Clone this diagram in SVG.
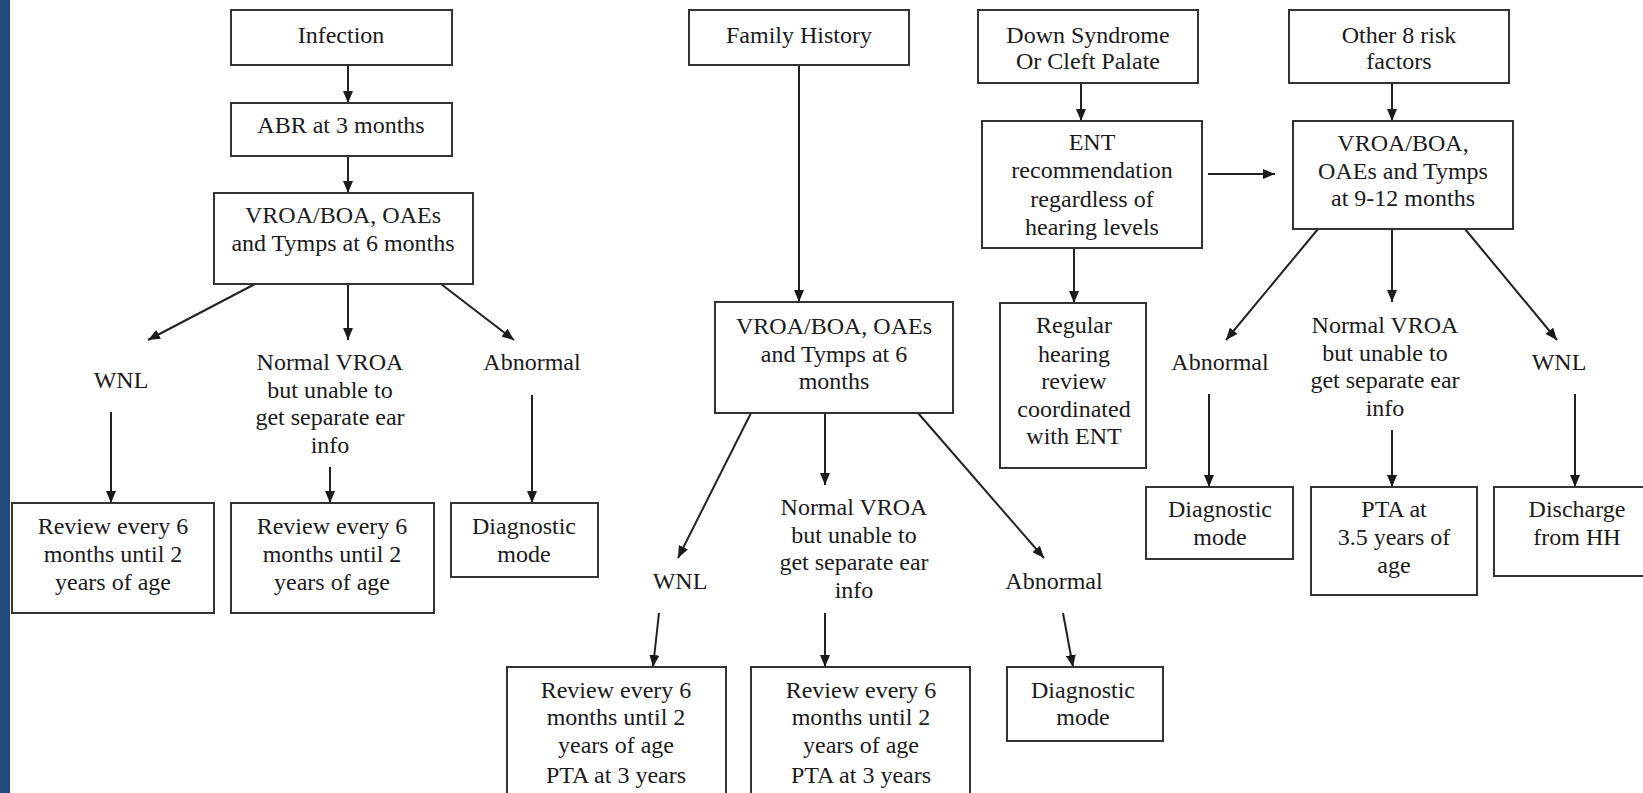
<svg xmlns="http://www.w3.org/2000/svg" width="1643" height="793" viewBox="0 0 1643 793">
<defs>
<marker id="ah" markerUnits="userSpaceOnUse" markerWidth="12" markerHeight="10" refX="12" refY="5" orient="auto">
<path d="M0,0 L12,5 L0,10 z" fill="#1a1a1a"/>
</marker>
<style>
.b{fill:#fff;stroke:#333;stroke-width:2}
.t{font-family:"Liberation Serif","Times New Roman",serif;font-size:24px;fill:#1a1a1a;text-anchor:middle}
.c line{stroke:#222;stroke-width:2;marker-end:url(#ah)}
</style>
</defs>
<rect x="0" y="0" width="1643" height="793" fill="#fff"/>
<rect x="0" y="0" width="10" height="793" fill="#1f4a7e"/>
<g class="c" id="connectors">
<line x1="348" y1="65" x2="348" y2="103"/>
<line x1="348" y1="156" x2="348" y2="193"/>
<line x1="255" y1="284" x2="148" y2="340"/>
<line x1="348" y1="284" x2="348" y2="340"/>
<line x1="441" y1="284" x2="514" y2="340"/>
<line x1="111" y1="412" x2="111" y2="503"/>
<line x1="330" y1="467" x2="330" y2="503"/>
<line x1="532" y1="395" x2="532" y2="503"/>
<line x1="799" y1="65" x2="799" y2="302"/>
<line x1="751" y1="413" x2="678" y2="558"/>
<line x1="825" y1="413" x2="825" y2="485"/>
<line x1="918" y1="413" x2="1044" y2="558"/>
<line x1="659" y1="613" x2="653" y2="667"/>
<line x1="825" y1="613" x2="825" y2="667"/>
<line x1="1063" y1="613" x2="1073" y2="667"/>
<line x1="1081" y1="83" x2="1081" y2="121"/>
<line x1="1074" y1="248" x2="1074" y2="303"/>
<line x1="1208" y1="174" x2="1275" y2="174"/>
<line x1="1392" y1="83" x2="1392" y2="121"/>
<line x1="1318" y1="229" x2="1226" y2="340"/>
<line x1="1392" y1="229" x2="1392" y2="302"/>
<line x1="1465" y1="229" x2="1557" y2="340"/>
<line x1="1209" y1="394" x2="1209" y2="487"/>
<line x1="1392" y1="430" x2="1392" y2="487"/>
<line x1="1575" y1="394" x2="1575" y2="487"/>
</g>
<g id="infection"><rect class="b" x="231" y="10" width="221" height="55"/><text class="t" x="341" y="43">Infection</text></g>
<g id="abr"><rect class="b" x="231" y="103" width="221" height="53"/><text class="t" x="341" y="133">ABR at 3 months</text></g>
<g id="vroa6a"><rect class="b" x="214" y="193" width="259" height="91"/><text class="t" x="343" y="223">VROA/BOA, OAEs</text><text class="t" x="343" y="251">and Tymps at 6 months</text></g>
<g id="wnl1"><text class="t" x="121" y="388">WNL</text></g>
<g id="normal1"><text class="t" x="330" y="370">Normal VROA</text><text class="t" x="330" y="398">but unable to</text><text class="t" x="330" y="425">get separate ear</text><text class="t" x="330" y="453">info</text></g>
<g id="abnormal1"><text class="t" x="532" y="370">Abnormal</text></g>
<g id="review1"><rect class="b" x="12" y="503" width="202" height="110"/><text class="t" x="113" y="534">Review every 6</text><text class="t" x="113" y="562">months until 2</text><text class="t" x="113" y="590">years of age</text></g>
<g id="review2"><rect class="b" x="231" y="503" width="203" height="110"/><text class="t" x="332" y="534">Review every 6</text><text class="t" x="332" y="562">months until 2</text><text class="t" x="332" y="590">years of age</text></g>
<g id="diag1"><rect class="b" x="451" y="503" width="147" height="74"/><text class="t" x="524" y="534">Diagnostic</text><text class="t" x="524" y="562">mode</text></g>
<g id="family"><rect class="b" x="689" y="10" width="220" height="55"/><text class="t" x="799" y="43">Family History</text></g>
<g id="vroa6b"><rect class="b" x="715" y="302" width="238" height="111"/><text class="t" x="834" y="334">VROA/BOA, OAEs</text><text class="t" x="834" y="362">and Tymps at 6</text><text class="t" x="834" y="389">months</text></g>
<g id="wnl2"><text class="t" x="680" y="589">WNL</text></g>
<g id="normal2"><text class="t" x="854" y="515">Normal VROA</text><text class="t" x="854" y="543">but unable to</text><text class="t" x="854" y="570">get separate ear</text><text class="t" x="854" y="598">info</text></g>
<g id="abnormal2"><text class="t" x="1054" y="589">Abnormal</text></g>
<g id="review3"><rect class="b" x="507" y="667" width="219" height="140"/><text class="t" x="616" y="698">Review every 6</text><text class="t" x="616" y="725">months until 2</text><text class="t" x="616" y="753">years of age</text><text class="t" x="616" y="783">PTA at 3 years</text></g>
<g id="review4"><rect class="b" x="751" y="667" width="219" height="140"/><text class="t" x="861" y="698">Review every 6</text><text class="t" x="861" y="725">months until 2</text><text class="t" x="861" y="753">years of age</text><text class="t" x="861" y="783">PTA at 3 years</text></g>
<g id="diag2"><rect class="b" x="1007" y="667" width="156" height="74"/><text class="t" x="1083" y="698">Diagnostic</text><text class="t" x="1083" y="725">mode</text></g>
<g id="down"><rect class="b" x="978" y="10" width="220" height="73"/><text class="t" x="1088" y="43">Down Syndrome</text><text class="t" x="1088" y="69">Or Cleft Palate</text></g>
<g id="ent"><rect class="b" x="982" y="121" width="220" height="127"/><text class="t" x="1092" y="150">ENT</text><text class="t" x="1092" y="178">recommendation</text><text class="t" x="1092" y="207">regardless of</text><text class="t" x="1092" y="235">hearing levels</text></g>
<g id="regular"><rect class="b" x="1000" y="303" width="146" height="165"/><text class="t" x="1074" y="333">Regular</text><text class="t" x="1074" y="362">hearing</text><text class="t" x="1074" y="389">review</text><text class="t" x="1074" y="417">coordinated</text><text class="t" x="1074" y="444">with ENT</text></g>
<g id="other"><rect class="b" x="1289" y="10" width="220" height="73"/><text class="t" x="1399" y="43">Other 8 risk</text><text class="t" x="1399" y="69">factors</text></g>
<g id="vroa9"><rect class="b" x="1293" y="121" width="220" height="108"/><text class="t" x="1403" y="151">VROA/BOA,</text><text class="t" x="1403" y="179">OAEs and Tymps</text><text class="t" x="1403" y="206">at 9-12 months</text></g>
<g id="abnormal3"><text class="t" x="1220" y="370">Abnormal</text></g>
<g id="normal3"><text class="t" x="1385" y="333">Normal VROA</text><text class="t" x="1385" y="361">but unable to</text><text class="t" x="1385" y="388">get separate ear</text><text class="t" x="1385" y="416">info</text></g>
<g id="wnl3"><text class="t" x="1559" y="370">WNL</text></g>
<g id="diag3"><rect class="b" x="1146" y="487" width="147" height="72"/><text class="t" x="1220" y="517">Diagnostic</text><text class="t" x="1220" y="545">mode</text></g>
<g id="pta"><rect class="b" x="1311" y="487" width="166" height="108"/><text class="t" x="1394" y="517">PTA at</text><text class="t" x="1394" y="545">3.5 years of</text><text class="t" x="1394" y="573">age</text></g>
<g id="discharge"><rect class="b" x="1494" y="487" width="152" height="89"/><text class="t" x="1577" y="517">Discharge</text><text class="t" x="1577" y="545">from HH</text></g>
</svg>
